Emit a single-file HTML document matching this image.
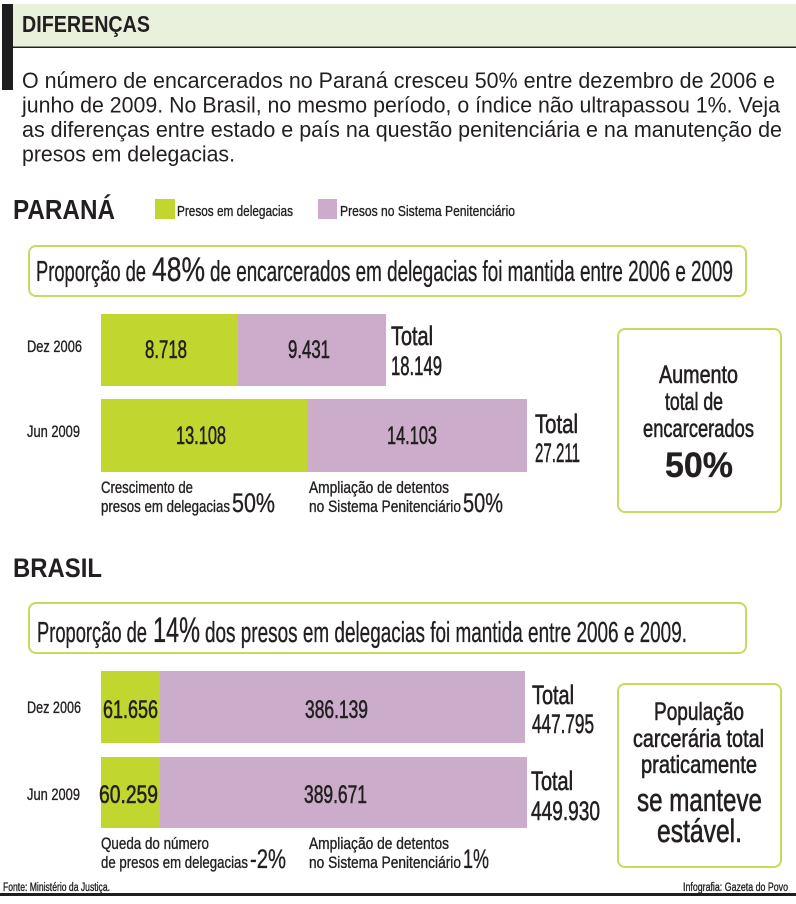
<!DOCTYPE html>
<html><head><meta charset="utf-8">
<style>
html,body{margin:0;padding:0;background:#fff;}
svg{display:block;}
text{font-family:"Liberation Sans Narrow","Liberation Sans",sans-serif;fill:#231f20;stroke:#231f20;stroke-width:0.35;}
.p{font-family:"Liberation Sans",sans-serif;stroke-width:0;}
.b{font-family:"Liberation Sans",sans-serif;font-weight:bold;stroke-width:0;}
.m{stroke-width:0.6;}
</style></head>
<body>
<svg width="796" height="904" viewBox="0 0 796 904" xmlns="http://www.w3.org/2000/svg">
<rect x="0" y="0" width="796" height="904" fill="#fff"/>
<!-- header -->
<rect x="13" y="4" width="783" height="43" fill="#e9f1dc"/>
<rect x="2" y="4" width="11" height="86" fill="#1e1e1e"/>
<rect x="13" y="46.5" width="783" height="1.5" fill="#222"/>
<text class="b" x="22" y="32" font-size="23.5" textLength="128" lengthAdjust="spacingAndGlyphs">DIFERENÇAS</text>

<text class="p" x="22" y="88" font-size="22" textLength="753" lengthAdjust="spacingAndGlyphs">O número de encarcerados no Paraná cresceu 50% entre dezembro de 2006 e</text>
<text class="p" x="22" y="112.5" font-size="22" textLength="758" lengthAdjust="spacingAndGlyphs">junho de 2009. No Brasil, no mesmo período, o índice não ultrapassou 1%. Veja</text>
<text class="p" x="22" y="137" font-size="22" textLength="760" lengthAdjust="spacingAndGlyphs">as diferenças entre estado e país na questão penitenciária e na manutenção de</text>
<text class="p" x="22" y="161.5" font-size="22" textLength="213" lengthAdjust="spacingAndGlyphs">presos em delegacias.</text>

<!-- PARANA -->
<text class="b" x="13" y="219" font-size="28" textLength="102" lengthAdjust="spacingAndGlyphs">PARANÁ</text>
<rect x="155" y="199" width="20" height="20" fill="#c1d72f"/>
<text x="177" y="216" font-size="15" textLength="116" lengthAdjust="spacingAndGlyphs">Presos em delegacias</text>
<rect x="318" y="199" width="19" height="20" fill="#cbaccb"/>
<text x="340" y="216" font-size="15" textLength="175" lengthAdjust="spacingAndGlyphs">Presos no Sistema Penitenciário</text>

<rect x="29" y="246" width="717" height="50" rx="7" ry="7" fill="none" stroke="#c5db5f" stroke-width="2"/>
<text x="36" y="281" font-size="29" textLength="110" lengthAdjust="spacingAndGlyphs">Proporção de</text>
<text x="152" y="281" font-size="34" textLength="53" lengthAdjust="spacingAndGlyphs">48%</text>
<text x="210" y="281" font-size="29" textLength="523" lengthAdjust="spacingAndGlyphs">de encarcerados em delegacias foi mantida entre 2006 e 2009</text>

<text x="27" y="352" font-size="16.5" textLength="55" lengthAdjust="spacingAndGlyphs">Dez 2006</text>
<rect x="101" y="314" width="137" height="72" fill="#c1d72f"/>
<rect x="238" y="314" width="148" height="72" fill="#cbaccb"/>
<text class="m" x="145" y="358" font-size="25" textLength="42" lengthAdjust="spacingAndGlyphs">8.718</text>
<text class="m" x="288" y="358" font-size="25" textLength="42" lengthAdjust="spacingAndGlyphs">9.431</text>
<text class="m" x="391" y="345" font-size="27" textLength="42" lengthAdjust="spacingAndGlyphs">Total</text>
<text class="m" x="391" y="375" font-size="27" textLength="51" lengthAdjust="spacingAndGlyphs">18.149</text>

<text x="27" y="437" font-size="16.5" textLength="53" lengthAdjust="spacingAndGlyphs">Jun 2009</text>
<rect x="101" y="399" width="206" height="73" fill="#c1d72f"/>
<rect x="307" y="399" width="220" height="73" fill="#cbaccb"/>
<text class="m" x="176" y="444" font-size="25" textLength="50" lengthAdjust="spacingAndGlyphs">13.108</text>
<text class="m" x="387" y="444" font-size="25" textLength="50" lengthAdjust="spacingAndGlyphs">14.103</text>
<text class="m" x="535" y="433" font-size="27" textLength="43" lengthAdjust="spacingAndGlyphs">Total</text>
<text class="m" x="535" y="462" font-size="27" textLength="45" lengthAdjust="spacingAndGlyphs">27.211</text>

<text x="101" y="493" font-size="16.5" textLength="92" lengthAdjust="spacingAndGlyphs">Crescimento de</text>
<text x="101" y="512" font-size="16.5" textLength="129" lengthAdjust="spacingAndGlyphs">presos em delegacias</text>
<text x="232" y="512" font-size="27" textLength="43" lengthAdjust="spacingAndGlyphs">50%</text>
<text x="309" y="493" font-size="16.5" textLength="140" lengthAdjust="spacingAndGlyphs">Ampliação de detentos</text>
<text x="309" y="512" font-size="16.5" textLength="152" lengthAdjust="spacingAndGlyphs">no Sistema Penitenciário</text>
<text x="463" y="512" font-size="27" textLength="40" lengthAdjust="spacingAndGlyphs">50%</text>

<rect x="618" y="329" width="163" height="183" rx="7" ry="7" fill="none" stroke="#c5db5f" stroke-width="2"/>
<text class="m" x="659" y="383" font-size="25" textLength="79" lengthAdjust="spacingAndGlyphs">Aumento</text>
<text class="m" x="665" y="410" font-size="25" textLength="58" lengthAdjust="spacingAndGlyphs">total de</text>
<text class="m" x="643" y="437" font-size="25" textLength="111" lengthAdjust="spacingAndGlyphs">encarcerados</text>
<text x="665" y="477" font-size="35" font-weight="bold" textLength="68" lengthAdjust="spacingAndGlyphs">50%</text>

<!-- BRASIL -->
<text class="b" x="13" y="577" font-size="27" textLength="89" lengthAdjust="spacingAndGlyphs">BRASIL</text>
<rect x="29" y="603" width="717" height="50" rx="7" ry="7" fill="none" stroke="#c5db5f" stroke-width="2"/>
<text x="37" y="642" font-size="29" textLength="110" lengthAdjust="spacingAndGlyphs">Proporção de</text>
<text x="153" y="642" font-size="35" textLength="47" lengthAdjust="spacingAndGlyphs">14%</text>
<text x="205" y="642" font-size="29" textLength="482" lengthAdjust="spacingAndGlyphs">dos presos em delegacias foi mantida entre 2006 e 2009.</text>

<text x="27" y="713" font-size="16.5" textLength="54" lengthAdjust="spacingAndGlyphs">Dez 2006</text>
<rect x="101" y="671" width="59" height="72" fill="#c1d72f"/>
<rect x="160" y="671" width="365" height="72" fill="#cbaccb"/>
<text class="m" x="103" y="718" font-size="25" textLength="55" lengthAdjust="spacingAndGlyphs">61.656</text>
<text class="m" x="305" y="718" font-size="25" textLength="63" lengthAdjust="spacingAndGlyphs">386.139</text>
<text class="m" x="532" y="704" font-size="27" textLength="42" lengthAdjust="spacingAndGlyphs">Total</text>
<text class="m" x="532" y="733" font-size="27" textLength="62" lengthAdjust="spacingAndGlyphs">447.795</text>

<text x="27" y="800" font-size="16.5" textLength="53" lengthAdjust="spacingAndGlyphs">Jun 2009</text>
<rect x="101" y="757" width="59" height="71" fill="#c1d72f"/>
<rect x="160" y="757" width="367" height="71" fill="#cbaccb"/>
<text class="m" x="99" y="803" font-size="25" textLength="59" lengthAdjust="spacingAndGlyphs">60.259</text>
<text class="m" x="304" y="803" font-size="25" textLength="63" lengthAdjust="spacingAndGlyphs">389.671</text>
<text class="m" x="531" y="790" font-size="27" textLength="42" lengthAdjust="spacingAndGlyphs">Total</text>
<text class="m" x="531" y="820" font-size="27" textLength="69" lengthAdjust="spacingAndGlyphs">449.930</text>

<text x="101" y="849" font-size="16.5" textLength="108" lengthAdjust="spacingAndGlyphs">Queda do número</text>
<text x="101" y="868" font-size="16.5" textLength="147" lengthAdjust="spacingAndGlyphs">de presos em delegacias</text>
<text x="250" y="868" font-size="27" textLength="36" lengthAdjust="spacingAndGlyphs">-2%</text>
<text x="309" y="849" font-size="16.5" textLength="140" lengthAdjust="spacingAndGlyphs">Ampliação de detentos</text>
<text x="309" y="868" font-size="16.5" textLength="152" lengthAdjust="spacingAndGlyphs">no Sistema Penitenciário</text>
<text x="463" y="868" font-size="27" textLength="26" lengthAdjust="spacingAndGlyphs">1%</text>

<rect x="618" y="684" width="163" height="183" rx="7" ry="7" fill="none" stroke="#c5db5f" stroke-width="2"/>
<text class="m" x="654" y="720" font-size="25" textLength="90" lengthAdjust="spacingAndGlyphs">População</text>
<text class="m" x="633" y="747" font-size="25" textLength="131" lengthAdjust="spacingAndGlyphs">carcerária total</text>
<text class="m" x="641" y="773" font-size="25" textLength="116" lengthAdjust="spacingAndGlyphs">praticamente</text>
<text class="m" x="637" y="811" font-size="32" textLength="125" lengthAdjust="spacingAndGlyphs">se manteve</text>
<text class="m" x="657" y="842" font-size="32" textLength="85" lengthAdjust="spacingAndGlyphs">estável.</text>

<!-- footer -->
<text x="3" y="891" font-size="11.5" textLength="107" lengthAdjust="spacingAndGlyphs">Fonte: Ministério da Justiça.</text>
<text x="683" y="891" font-size="11.5" textLength="105" lengthAdjust="spacingAndGlyphs">Infografia: Gazeta do Povo</text>
<rect x="0" y="893" width="796" height="3" fill="#1e1e1e"/>
</svg>
</body></html>
